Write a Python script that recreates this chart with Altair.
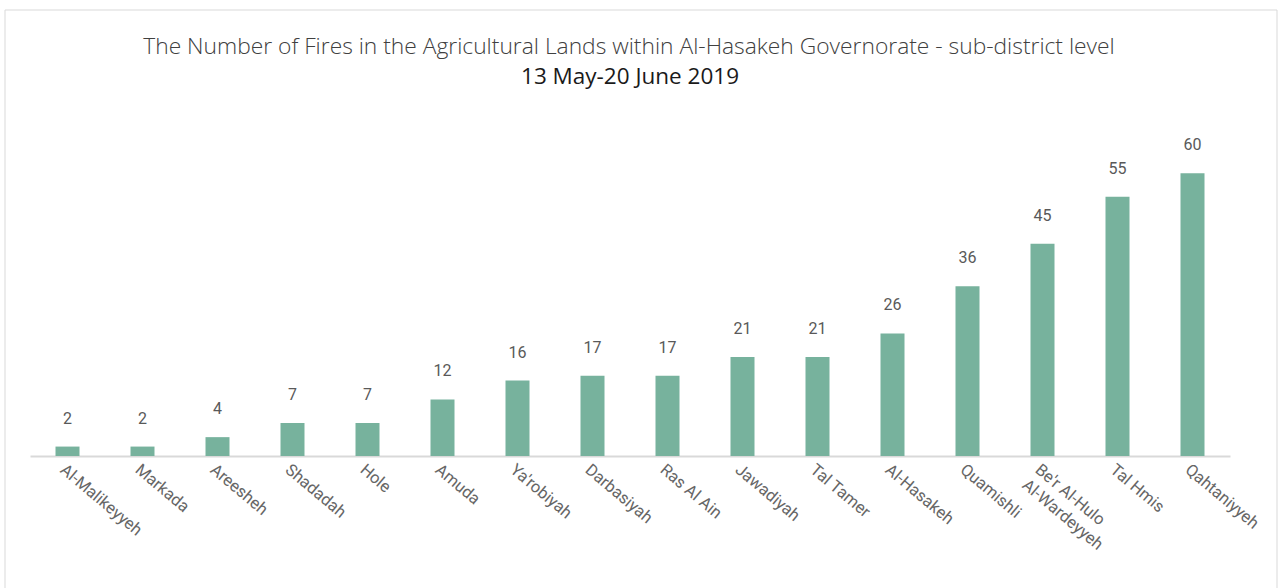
import altair as alt
import pandas as pd

districts = ["Al-Malikeyyeh", "Markada", "Areesheh", "Shadadah", "Hole", "Amuda",
             "Ya'robiyah", "Darbasiyah", "Ras Al Ain", "Jawadiyah", "Tal Tamer",
             "Al-Hasakeh", "Quamishli", "Be'r Al-Hulo Al-Wardeyyeh", "Tal Hmis",
             "Qahtaniyyeh"]
fires = [2, 2, 4, 7, 7, 12, 16, 17, 17, 21, 21, 26, 36, 45, 55, 60]
title_text = "The Number of Fires in the Agricultural Lands within Al-Hasakeh Governorate - sub-district level"
subtitle_text = "13 May-20 June 2019"

df = pd.DataFrame({"district": districts, "fires": fires})
one = pd.DataFrame({"a": [0]})

label_expr = ("datum.value == \"Be'r Al-Hulo Al-Wardeyyeh\" ? "
              "[\"Be'r Al-Hulo\", \"Al-Wardeyyeh\"] : datum.label")

x = alt.X("district:N", sort=districts, title=None,
          scale=alt.Scale(paddingInner=0.68, paddingOuter=0.34),
          axis=alt.Axis(labelAngle=40, labelAlign="left", labelBaseline="top",
                        labelPadding=5, ticks=False, domainColor="#D9D9D9",
                        domainWidth=2, labelColor="#666666", labelFont="Roboto",
                        labelFontSize=16.5, labelLineHeight=20, labelExpr=label_expr,
                        labelOverlap=False))
y = alt.Y("fires:Q", title=None, scale=alt.Scale(domain=[0, 70]), axis=None)

bars = alt.Chart(df).mark_bar(color="#77B29D", size=24).encode(x=x, y=y)
labels = alt.Chart(df).mark_text(baseline="bottom", dy=-20, font="Roboto",
                                 fontSize=16, color="#595959").encode(
    x=alt.X("district:N", sort=districts), y=y, text="fires:Q")

border = alt.Chart(one).mark_rect(
    fill=None, stroke="#D9D9D9", strokeWidth=1).encode(
    x=alt.value(-25), x2=alt.value(1247), y=alt.value(-116), y2=alt.value(600))

title1 = alt.Chart(one).mark_text(
    font="Open Sans", fontSize=22.8, fontWeight=300, color="#404040",
    align="center", baseline="middle").encode(
    x=alt.value(599), y=alt.value(-79), text=alt.value(title_text))
title2 = alt.Chart(one).mark_text(
    font="Open Sans", fontSize=22.5, fontWeight=500, color="#1A1A1A",
    align="center", baseline="middle").encode(
    x=alt.value(600), y=alt.value(-49), text=alt.value(subtitle_text))

chart = alt.layer(border, title1, title2, bars, labels).properties(
    width=1200, height=330,
    autosize=alt.AutoSizeParams(type="none"),
    padding={"left": 30, "top": 126, "right": 49, "bottom": 132},
    background="white",
).configure_view(stroke=None)

chart.save("out.html", embed_options={"renderer": "svg", "actions": False})
